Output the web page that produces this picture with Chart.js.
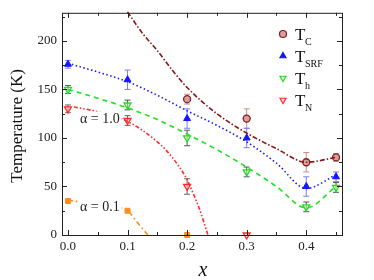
<!DOCTYPE html>
<html>
<head>
<meta charset="utf-8">
<script src="https://cdn.jsdelivr.net/npm/chart.js@4/dist/chart.umd.min.js"></script>
<style>
  html, body { margin: 0; padding: 0; background: #fff; }
  #wrap { width: 374px; height: 280px; }
</style>
</head>
<body>
<div id="wrap"><canvas id="phase-chart" width="374" height="280"></canvas></div>
<script>
// measured points
const xs = [0.0, 0.1, 0.2, 0.3, 0.4, 0.45]
const tC   = [null, null, 140, 120, 75, 80]
const tCerr = [0, 0, 5, 10, 10, 4]
const tSRF = [176, 160, 120, 100, 50, 60]
const tSRFerr = [4, 10, 10, 10, 10, 5]
const tH   = [150, 134, 100, 65, 29, 49]
const tHerr = [4, 5, 8, 5, 5, 5]
const tN   = [130, 118, 50, 0, null, null]
const tNerr = [4, 5, 8, 0, 0, 0]
const xsLow = [0.0, 0.1, 0.2]
const tLow = [35, 25, 0]

// guide curves
const fitCx = [0.1, 0.125, 0.15, 0.175, 0.2, 0.25, 0.3, 0.35, 0.4, 0.45]
const fitC  = [230, 208, 190, 170, 152, 125, 105, 89, 75, 80]
const fitSRFx = [0.0, 0.05, 0.1, 0.15, 0.2, 0.25, 0.3, 0.35, 0.4, 0.45]
const fitSRF  = [177, 168, 158, 144, 128, 113, 96, 74, 48, 62]
const fitHx = [0.0, 0.05, 0.1, 0.15, 0.2, 0.25, 0.3, 0.35, 0.4, 0.45]
const fitH  = [150, 141, 131, 119, 104, 88, 70, 50, 28, 50]
const fitNx = [0.01, 0.05, 0.1, 0.15, 0.175, 0.2, 0.21, 0.22, 0.235]
const fitN  = [132, 127, 117, 96, 80, 57, 43, 28, 0]
const fitLx = [0.0, 0.05, 0.1, 0.115, 0.13, 0.134]
const fitL  = [36, 31, 25, 14, 3, 0]

const xTicks = [0.0, 0.1, 0.2, 0.3, 0.4]
const yTicks = [0, 50, 100, 150, 200]

const serif = "'Liberation Serif', 'DejaVu Serif', serif"

function pts(x, y) {
    let out = []
    for (let i = 0; i < x.length; i++) {
        if (y[i] !== null) out.push({x: x[i], y: y[i]})
    }
    return out
}

let errSets = [
    {y: tC, e: tCerr, color: "#c48f8f"},
    {y: tSRF, e: tSRFerr, color: "#7b7bff"},
    {y: tH, e: tHerr, color: "#555555"},
    {y: tN, e: tNerr, color: "#666666"}
]

let errorBars = {
    id: "errorBars",
    beforeDatasetsDraw(chart) {
        let ctx = chart.ctx
        let sx = chart.scales.x, sy = chart.scales.y
        ctx.save()
        ctx.lineWidth = 1
        errSets.forEach(s => {
            ctx.strokeStyle = s.color
            for (let i = 0; i < xs.length; i++) {
                if (s.y[i] === null || !s.e[i]) continue
                let px = sx.getPixelForValue(xs[i])
                let top = sy.getPixelForValue(s.y[i] + s.e[i])
                let bot = sy.getPixelForValue(s.y[i] - s.e[i])
                ctx.beginPath()
                ctx.moveTo(px, top); ctx.lineTo(px, bot)
                ctx.moveTo(px - 3, top); ctx.lineTo(px + 3, top)
                ctx.moveTo(px - 3, bot); ctx.lineTo(px + 3, bot)
                ctx.stroke()
            }
        })
        ctx.restore()
    }
}

let frame = {
    id: "frame",
    afterDraw(chart) {
        let ctx = chart.ctx
        let a = chart.chartArea
        let sx = chart.scales.x, sy = chart.scales.y
        ctx.save()
        // axis titles
        ctx.fillStyle = "#111"
        ctx.textAlign = "center"
        ctx.textBaseline = "middle"
        ctx.font = "italic 20px " + serif
        ctx.fillText("x", (a.left + a.right) / 2 + 1, 271)
        ctx.save()
        ctx.translate(18, (a.top + a.bottom) / 2 + 2)
        ctx.rotate(-Math.PI / 2)
        ctx.font = "17px " + serif
        ctx.fillText("Temperature (K)", 0, 0)
        ctx.restore()
        // labels inside the plot
        ctx.font = "14px " + serif
        ctx.textBaseline = "middle"
        ctx.textAlign = "left"
        let labels = [["\u03b1 = 1.0", 0.0, 119], ["\u03b1 = 0.1", 0.0, 29]]
        labels.forEach(l => {
            let px = sx.getPixelForValue(l[1]) + 12
            let py = sy.getPixelForValue(l[2])
            let w = ctx.measureText(l[0]).width
            ctx.fillStyle = "#fff"
            ctx.fillRect(px - 2, py - 8, w + 4, 16)
            ctx.fillStyle = "#222"
            ctx.fillText(l[0], px, py)
        })
        // box
        ctx.strokeStyle = "#222"
        ctx.lineWidth = 1
        ctx.strokeRect(a.left + 0.5, a.top + 0.5, a.right - a.left, a.bottom - a.top)
        // ticks on all sides
        ctx.beginPath()
        for (let v = 0; v <= 0.451; v += 0.05) {
            let px = Math.round(sx.getPixelForValue(v)) + 0.5
            let major = Math.abs(v * 10 - Math.round(v * 10)) < 1e-6
            let len = major ? 5 : 3
            ctx.moveTo(px, a.bottom); ctx.lineTo(px, a.bottom - len)
            ctx.moveTo(px, a.top); ctx.lineTo(px, a.top + len)
        }
        for (let v = 0; v <= 225; v += 25) {
            let py = Math.round(sy.getPixelForValue(v)) + 0.5
            let len = v % 50 === 0 ? 5 : 3
            ctx.moveTo(a.left, py); ctx.lineTo(a.left + len, py)
            ctx.moveTo(a.right, py); ctx.lineTo(a.right - len, py)
        }
        ctx.stroke()
        // legend
        let leg = ["C", "SRF", "h", "N"]
        leg.forEach((sub, i) => {
            let ds = chart.data.datasets[5 + i]
            let y = 34 + i * 22
            ctx.fillStyle = ds.backgroundColor
            ctx.strokeStyle = ds.borderColor
            ctx.lineWidth = 1.2
            Chart.helpers.drawPoint(ctx, {
                pointStyle: ds.pointStyle, radius: 3.5,
                rotation: ds.pointRotation || 0, borderWidth: 1.2
            }, 283, y)
            ctx.fillStyle = "#111"
            ctx.textAlign = "left"
            ctx.font = "17px " + serif
            ctx.textBaseline = "alphabetic"
            ctx.fillText("T", 295, y + 6)
            ctx.font = "10px " + serif
            ctx.fillText(sub, 305, y + 11)
        })
        ctx.restore()
    }
}

function fitLine(x, y, color, dash) {
    return {
        data: pts(x, y), showLine: true, pointRadius: 0,
        borderColor: color, borderWidth: 1.6, borderDash: dash,
        fill: false, cubicInterpolationMode: "monotone"
    }
}

let canvas = document.querySelector("#phase-chart")
let ctx = canvas.getContext("2d")

let chart = new Chart(ctx, {
    type: "scatter",
    data: {
        datasets: [
            fitLine(fitCx, fitC, "#8b1515", [5, 2, 1.5, 2]),
            fitLine(fitSRFx, fitSRF, "#1a1aff", [1.5, 2.5]),
            fitLine(fitHx, fitH, "#22e022", [5, 4]),
            fitLine(fitNx, fitN, "#ff2a2a", [4, 2, 1.5, 2, 1.5, 2]),
            fitLine(fitLx, fitL, "#ff8c1a", [5, 3, 1.5, 3]),
            {
                label: "TC", data: pts(xs, tC), pointStyle: "circle", pointRadius: 3.5,
                borderColor: "#8b1a1a", backgroundColor: "#d6a0a0", pointBorderWidth: 1.3
            },
            {
                label: "TSRF", data: pts(xs, tSRF), pointStyle: "triangle", pointRadius: 4,
                borderColor: "#1515ff", backgroundColor: "#1515ff", pointBorderWidth: 1
            },
            {
                label: "Th", data: pts(xs, tH), pointStyle: "triangle", pointRotation: 180, pointRadius: 4,
                borderColor: "#22dd22", backgroundColor: "rgba(200,255,200,0.5)", pointBorderWidth: 1.3
            },
            {
                label: "TN", data: pts(xs, tN), pointStyle: "triangle", pointRotation: 180, pointRadius: 4,
                borderColor: "#ff2a2a", backgroundColor: "rgba(255,200,200,0.5)", pointBorderWidth: 1.3
            },
            {
                label: "a01", data: pts(xsLow, tLow), pointStyle: "rect", pointRadius: 3.5,
                borderColor: "#ff8c1a", backgroundColor: "#ff8c1a", pointBorderWidth: 1
            }
        ]
    },
    options: {
        responsive: false,
        animation: false,
        clip: false,
        layout: { padding: { left: 0, right: 32, top: 12, bottom: 0 } },
        plugins: { legend: { display: false }, tooltip: { enabled: false } },
        scales: {
            x: {
                type: "linear", min: -0.01, max: 0.46,
                afterFit: s => { s.height = 45 },
                afterBuildTicks: s => { s.ticks = xTicks.map(v => ({value: v})) },
                grid: { display: false, drawTicks: false },
                border: { display: false },
                ticks: {
                    padding: 4, color: "#222",
                    font: { family: serif, size: 13 },
                    callback: v => v.toFixed(1)
                }
            },
            y: {
                type: "linear", min: 0, max: 229,
                afterFit: s => { s.width = 62 },
                afterBuildTicks: s => { s.ticks = yTicks.map(v => ({value: v})) },
                grid: { display: false, drawTicks: false },
                border: { display: false },
                ticks: {
                    padding: 5, color: "#222",
                    font: { family: serif, size: 13 }
                }
            }
        }
    },
    plugins: [errorBars, frame]
})
</script>
</body>
</html>
